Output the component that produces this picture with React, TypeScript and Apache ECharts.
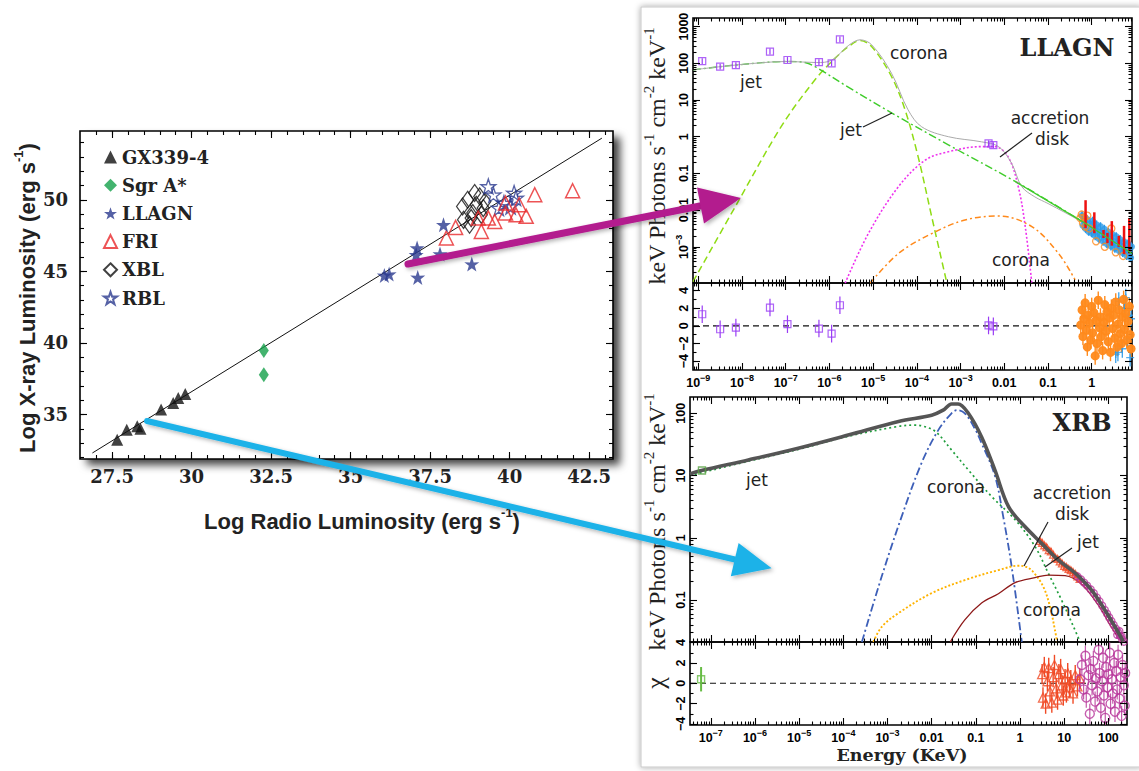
import React, { useEffect, useRef } from "react";
import * as echarts from "echarts";

// ================= LEFT PANEL: log L_R vs log L_X =================
const radioTickLabels = [27.5, 30, 32.5, 35, 37.5, 40, 42.5];
const xrayTickLabels = [35, 40, 45, 50];
const legendNames = ["GX339-4", "Sgr A*", "LLAGN", "FRI", "XBL", "RBL"];
const fitLine = [[26.88, 32.32], [42.9, 54.3]];
const gx339 = [[27.66, 33.25], [27.96, 33.95], [28.29, 34.18], [28.39, 34.02], [29.04, 35.35], [29.42, 35.81], [29.58, 36.16], [29.8, 36.44]];
const sgrA = [[32.27, 39.48], [32.27, 37.79]];
const llagnStars = [[36.06, 44.72], [36.21, 44.81], [37.09, 46.63], [37.06, 46.16], [37.81, 46.21], [37.92, 48.26], [37.11, 44.58], [38.81, 45.51]];
const fri = [[38.01, 47.33], [38.3, 48.07], [39.11, 47.79], [39.01, 48.72], [39.33, 48.72], [39.53, 48.49], [39.87, 49.07], [40.2, 48.95], [40.52, 48.84], [40.3, 49.65], [40.79, 50.35], [41.98, 50.63], [39.87, 49.77]];
const xbl = [[38.52, 49.53], [38.55, 48.6], [38.74, 48.26], [38.68, 50.0], [38.9, 50.47], [38.84, 49.07], [38.95, 49.65], [39.06, 50.23], [39.17, 49.42], [39.22, 49.88], [38.79, 48.72], [39.11, 48.95]];
const rbl = [[39.33, 50.93], [39.49, 50.35], [39.66, 49.42], [39.82, 49.77], [40.03, 49.53], [40.14, 50.47], [40.2, 50.12]];

// ================= LLAGN spectrum (log10 E [keV], log10 flux) =================
const llagnJet = [[-9.12, 1.82], [-8.16, 1.95], [-6.94, 2.05], [-6.56, 2.02], [-6.33, 1.91], [-5.57, 1.35], [-4.58, 0.65], [-3.28, -0.22], [-1.75, -1.22], [-0.23, -2.3], [0.92, -3.18]];
const llagnCoronaHigh = [[-9.12, -3.95], [-8.08, -1.75], [-7.09, 0.3], [-6.33, 1.55], [-5.87, 2.14], [-5.57, 2.45], [-5.3, 2.62], [-5.03, 2.45], [-4.58, 1.64], [-4.27, 0.73], [-3.97, -0.55], [-3.66, -2.18], [-3.32, -3.95]];
const llagnDisk = [[-5.64, -3.99], [-5.11, -2.64], [-4.42, -1.36], [-3.81, -0.64], [-3.28, -0.41], [-2.52, -0.27], [-2.21, -0.27], [-1.91, -0.55], [-1.68, -1.36], [-1.52, -2.45], [-1.37, -3.99]];
const llagnCoronaLow = [[-5.07, -3.99], [-4.42, -3.18], [-3.66, -2.64], [-2.9, -2.27], [-2.13, -2.16], [-1.37, -2.45], [-0.76, -3.18], [-0.38, -3.9]];
const llagnTotal = [[-9.12, 1.82], [-8.16, 1.95], [-6.94, 2.05], [-6.3, 2.02], [-5.95, 2.08], [-5.57, 2.48], [-5.3, 2.64], [-5.03, 2.5], [-4.58, 1.73], [-4.2, 0.73], [-3.89, 0.27], [-3.28, 0.0], [-2.52, -0.14], [-2.13, -0.27], [-1.83, -0.73], [-1.6, -1.36], [-1.3, -1.64], [-1.0, -1.82], [-0.23, -2.32], [0.92, -3.18]];
const llagnRadio = [[-8.91, 2.06], [-8.5, 1.91], [-8.14, 1.95], [-7.36, 2.32], [-6.96, 2.09], [-6.24, 2.03], [-5.95, 2.0], [-5.76, 2.65], [-2.36, -0.18], [-2.25, -0.23]];
const llagnRadioErr = 0.08;
const llagnRadioResid = [[-8.91, 1.32], [-8.5, -0.38], [-8.14, -0.19], [-7.36, 2.08], [-6.96, 0.19], [-6.24, -0.3], [-5.95, -0.87], [-5.76, 2.34], [-2.36, 0.05], [-2.25, -0.05]];
const llagnResidErr = 1.0;
const llagnXrayBlue = [[-0.22, -2.15], [-0.2, -2.42], [-0.17, -2.3], [-0.14, -2.5], [-0.1, -2.26], [-0.07, -2.58], [-0.04, -2.38], [0.0, -2.62], [0.02, -2.3], [0.05, -2.5], [0.08, -2.7], [0.11, -2.4], [0.14, -2.6], [0.17, -2.78], [0.2, -2.45], [0.23, -2.66], [0.26, -2.85], [0.29, -2.52], [0.32, -2.72], [0.35, -2.92], [0.38, -2.6], [0.41, -2.8], [0.44, -2.98], [0.47, -2.66], [0.5, -2.86], [0.53, -3.04], [0.56, -2.72], [0.59, -2.92], [0.62, -3.1], [0.65, -2.8], [0.68, -2.98], [0.71, -3.16], [0.74, -2.86], [0.77, -3.06], [0.8, -3.24], [0.83, -2.92], [0.86, -3.12], [0.89, -3.3], [0.91, -3.0]];
const llagnXrayBlueErr = 0.12;
const llagnXrayOrange = [[-0.26, -2.22], [-0.23, -2.12], [-0.2, -2.35], [-0.17, -2.2], [-0.14, -2.45], [-0.1, -2.15], [-0.06, -2.5], [0.1, -2.85], [0.3, -3.0], [0.55, -3.15], [0.72, -3.25], [0.45, -2.5]];
const llagnXrayRed = [[-0.14, -2.49, -1.73], [0.06, -2.63, -2.06], [0.27, -2.76, -2.54], [0.36, -2.9, -2.62], [0.46, -2.97, -2.3], [0.62, -3.0, -2.7], [0.74, -3.2, -2.43], [0.86, -3.18, -2.22]];
const llagnResidOrange = [[-0.25, 0.1], [-0.22, 1.8], [-0.2, -1.2], [-0.18, 0.8], [-0.15, 2.6], [-0.12, -0.5], [-0.1, -2.4], [-0.08, 1.2], [-0.05, 0.3], [-0.02, -1.6], [0.0, 2.2], [0.02, -0.8], [0.05, 1.5], [0.08, -3.4], [0.1, 0.6], [0.12, -2.0], [0.15, 2.9], [0.18, -0.2], [0.2, 1.0], [0.22, -1.2], [0.25, -2.8], [0.28, 0.4], [0.3, 2.4], [0.33, -0.6], [0.35, 1.6], [0.38, -1.8], [0.4, 0.9], [0.43, -3.0], [0.45, 2.0], [0.48, -0.3], [0.5, 1.2], [0.53, -1.4], [0.55, 2.7], [0.58, -2.4], [0.6, 0.2], [0.63, 1.8], [0.65, -0.9], [0.68, -2.0], [0.7, 1.0], [0.73, 3.0], [0.75, -0.4], [0.78, 1.4], [0.8, -1.6], [0.83, 0.5], [0.86, 2.2], [0.88, -1.0], [0.9, -2.6]];
const llagnResidBlue = [[0.55, -3.2], [0.62, 2.8], [0.7, -2.6], [0.78, 3.2], [0.82, -1.5], [0.85, 1.2], [0.88, -3.6], [0.9, 0.8], [0.6, -3.0], [0.75, 2.0]];

// ================= XRB spectrum =================
const xrbTotal = [[-7.47, 1.025], [-7.21, 1.08], [-6.15, 1.25], [-5.02, 1.44], [-3.89, 1.65], [-2.75, 1.87], [-2.0, 1.97], [-1.74, 2.05], [-1.55, 2.15], [-1.4, 2.15], [-1.17, 2.0], [-0.87, 1.62], [-0.57, 1.09], [-0.26, 0.5], [0.11, 0.18], [0.49, -0.09], [0.87, -0.36], [1.25, -0.57], [1.62, -0.84], [1.92, -1.16], [2.15, -1.43], [2.34, -1.67]];
const xrbJet = [[-7.47, 1.0], [-6.15, 1.23], [-5.02, 1.42], [-3.89, 1.63], [-2.75, 1.79], [-2.38, 1.81], [-2.23, 1.8], [-1.92, 1.71], [-1.55, 1.41], [-1.17, 1.09], [-0.64, 0.66], [-0.11, 0.29], [0.34, -0.14], [0.64, -0.57], [0.94, -1.0], [1.28, -1.54], [1.36, -1.675]];
const xrbCoronaBlue = [[-3.58, -1.675], [-3.13, -0.62], [-2.68, 0.34], [-2.23, 1.2], [-1.85, 1.73], [-1.55, 2.0], [-1.43, 2.05], [-1.25, 2.0], [-1.02, 1.75], [-0.87, 1.52], [-0.57, 1.0], [-0.38, 0.34], [-0.19, -0.46], [0.04, -1.675]];
const xrbDisk = [[-3.32, -1.675], [-3.13, -1.43], [-2.75, -1.21], [-2.0, -0.89], [-1.25, -0.68], [-0.49, -0.52], [-0.04, -0.45], [0.15, -0.47], [0.3, -0.55], [0.53, -0.79], [0.68, -1.11], [0.79, -1.48], [0.84, -1.675]];
const xrbCoronaRed = [[-1.58, -1.675], [-1.25, -1.32], [-0.87, -1.05], [-0.49, -0.9], [-0.11, -0.72], [0.34, -0.64], [0.64, -0.6], [1.02, -0.61], [1.4, -0.75], [1.77, -1.08], [2.08, -1.45], [2.3, -1.675]];
const xrbRadio = [[-7.2, 1.08]];
const xrbRed = [[0.45, -0.05], [0.5, -0.08], [0.55, -0.12], [0.6, -0.15], [0.65, -0.2], [0.7, -0.22], [0.75, -0.27], [0.8, -0.32], [0.85, -0.34], [0.9, -0.38], [0.95, -0.41], [1.0, -0.45], [1.05, -0.47], [1.1, -0.5], [1.15, -0.52], [1.2, -0.55], [1.25, -0.58], [1.3, -0.62], [1.35, -0.66]];
const xrbMagenta = [[1.3, -0.62], [1.38, -0.67], [1.45, -0.72], [1.52, -0.77], [1.6, -0.83], [1.67, -0.89], [1.74, -0.96], [1.8, -1.02], [1.86, -1.09], [1.92, -1.16], [1.97, -1.22], [2.02, -1.28], [2.07, -1.34], [2.12, -1.4], [2.17, -1.46], [2.22, -1.52], [2.27, -1.58], [2.31, -1.63], [2.35, -1.67], [2.25, -1.5], [2.3, -1.58], [2.2, -1.56]];
const xrbResidGreen = [[-7.22, 0.4]];
const xrbResidRed = [[0.5, 0.9], [0.52, -1.4], [0.55, 1.6], [0.58, -2.0], [0.62, 0.2], [0.65, 1.5], [0.68, -0.8], [0.72, -1.9], [0.75, 0.6], [0.78, 1.8], [0.82, -0.5], [0.85, -1.6], [0.88, 0.9], [0.92, 1.4], [0.95, -0.2], [0.98, -1.2], [1.02, 0.4], [1.05, -0.9], [1.08, 1.0], [1.12, -0.4], [1.15, 0.3], [1.2, -1.0], [1.25, 0.8], [1.3, -0.3], [1.35, 0.5]];
const xrbResidMagenta = [[1.36, 0.4], [1.4, 1.8], [1.44, -0.6], [1.48, 2.7], [1.5, -1.4], [1.55, 0.8], [1.58, -3.0], [1.6, 1.4], [1.63, -0.2], [1.66, 2.2], [1.7, -1.8], [1.72, 0.5], [1.75, -0.8], [1.78, 3.3], [1.8, 1.0], [1.83, -2.4], [1.86, 0.2], [1.88, 2.5], [1.9, -1.2], [1.93, -3.4], [1.95, 1.6], [1.98, -0.4], [2.0, 0.9], [2.03, 3.0], [2.05, -2.0], [2.08, 0.4], [2.1, -1.0], [2.13, 2.0], [2.15, -2.8], [2.18, 1.2], [2.2, -0.6], [2.22, 2.8], [2.25, -1.5], [2.28, 0.6], [2.3, -3.2], [2.32, 1.8], [2.35, -0.2], [2.37, -2.2], [2.38, 1.0]];
const xrbResidErr = 1.0;
const residTickLabels = [-4, -2, 0, 2, 4];

// ================= helpers =================
const SANS = "Liberation Sans";
const SERIF = "Liberation Serif";
const DSERIF = "DejaVu Serif";
const LABELSANS = "DejaVu Sans";
const STAR = "path://M50,0 L61.8,35.1 L97.6,34.5 L68.7,56.1 L79.4,90.5 L50,69.8 L20.6,90.5 L31.3,56.1 L2.4,34.5 L38.2,35.1 Z";
const CROSS = "path://M5,0 L5,10 M0,5 L10,5";

const range = (lo: number, hi: number, step: number) => {
  const out: number[] = [];
  for (let v = lo; v <= hi + 1e-9; v += step) out.push(Math.round(v * 1000) / 1000);
  return out;
};
const logMinors = (lo: number, hi: number) => {
  const out: number[] = [];
  for (let n = Math.floor(lo); n <= Math.ceil(hi); n++)
    for (let k = 2; k <= 9; k++) {
      const v = n + Math.log10(k);
      if (v > lo && v < hi) out.push(v);
    }
  return out;
};
const intsIn = (lo: number, hi: number) => range(Math.ceil(lo), Math.floor(hi), 1);
const withErr = (pts: number[][], e: number) => pts.map(([x, y]) => [x, y - e, y + e]);

const tickRich = {
  b: { fontFamily: SANS, fontWeight: "bold", fontSize: 12.5, color: "#000", lineHeight: 16, verticalAlign: "bottom" },
  s: { fontFamily: SANS, fontWeight: "bold", fontSize: 9, color: "#000", lineHeight: 9, verticalAlign: "top" },
};
const logLabel = (v: number) => {
  const n = Math.round(v);
  const plain: Record<string, string> = { "-2": "0.01", "-1": "0.1", "0": "1", "1": "10", "2": "100", "3": "1000" };
  if (plain[String(n)] !== undefined) return `{b|${plain[String(n)]}}`;
  return `{b|10}{s|${n < 0 ? "−" : ""}${Math.abs(n)}}`;
};
const residLabel = (v: number) => `{b|${v < 0 ? "−" + Math.abs(v) : String(v)}}`;

function makeAxes(dim: "x" | "y", gridIndex: number, min: number, max: number, majors: number[], minors: number[], majLen: number, minLen: number, label: any) {
  const pos = dim === "x" ? ["bottom", "top"] : ["left", "right"];
  const one = (position: string, values: number[], len: number, lab: any) => ({
    type: "value",
    gridIndex,
    position,
    min,
    max,
    axisLine: { show: false, onZero: false },
    splitLine: { show: false },
    axisTick: { show: true, inside: true, length: len, customValues: values, lineStyle: { color: "#000", width: 1.1 } },
    axisLabel: lab ? { show: true, customValues: majors, ...lab } : { show: false },
    z: 6,
  });
  return [one(pos[0], majors, majLen, label), one(pos[0], minors, minLen, null), one(pos[1], majors, majLen, null), one(pos[1], minors, minLen, null)];
}

const lineS = (name: string, g: number, data: number[][], color: string, width: number, type: any, z = 3, smooth: any = 0.35) => ({
  type: "line", name, xAxisIndex: g * 4, yAxisIndex: g * 4, data, showSymbol: false, symbol: "none",
  smooth, lineStyle: { color, width, type }, z, silent: true, clip: true,
});
const scatS = (name: string, g: number, data: number[][], symbol: string, size: any, itemStyle: any, z = 5) => ({
  type: "scatter", name, xAxisIndex: g * 4, yAxisIndex: g * 4, data, symbol, symbolSize: size, itemStyle, z, silent: true, clip: true,
});
const errS = (name: string, g: number, data: number[][], color: string, width: number, z = 4) => ({
  type: "custom", name, xAxisIndex: g * 4, yAxisIndex: g * 4, data, encode: { x: 0, y: [1, 2] }, z, silent: true, clip: true,
  renderItem: (_p: any, api: any) => {
    const x = api.value(0);
    const a = api.coord([x, api.value(1)]);
    const b = api.coord([x, api.value(2)]);
    return { type: "line", shape: { x1: a[0], y1: a[1], x2: b[0], y2: b[1] }, style: { stroke: color, lineWidth: width } };
  },
});
const hollow = (c: string, w = 1.3) => ({ color: "rgba(0,0,0,0)", borderColor: c, borderWidth: w });

function buildOption() {
  const R = {
    g0: { x: [26.49, 43.25], y: [31.9, 54.8] },
    g1: { x: [-9.121, 0.922], y: [-3.986, 3.234] },
    g2: { x: [-9.121, 0.922], y: [-5.0, 4.86] },
    g3: { x: [-7.471, 2.422], y: [-1.675, 2.262] },
    g4: { x: [-7.471, 2.422], y: [-4.1, 4.06] },
  };
  const grids = [
    { left: 80, top: 131, width: 533, height: 328 },
    { left: 693, top: 18, width: 439, height: 265 },
    { left: 693, top: 283, width: 439, height: 87 },
    { left: 690, top: 397, width: 437, height: 245 },
    { left: 690, top: 642, width: 437, height: 83 },
  ].map((g) => ({ ...g, show: true, borderColor: "#000", borderWidth: 1.6, backgroundColor: "rgba(0,0,0,0)", containLabel: false }));

  const leftXLabel = { fontFamily: DSERIF, fontWeight: "bold", fontSize: 18, color: "#222", margin: 8, formatter: (v: number) => String(v) };
  const leftYLabel = { fontFamily: DSERIF, fontWeight: "bold", fontSize: 18, color: "#222", margin: 12, formatter: (v: number) => String(v) };
  const rXLabel = { formatter: logLabel, rich: tickRich, margin: 3 };
  const rYLabel = { formatter: logLabel, rich: tickRich, rotate: 90, margin: 3 };
  const resYLabel = { formatter: residLabel, rich: tickRich, rotate: 90, margin: 3 };

  const xAxis = [
    ...makeAxes("x", 0, R.g0.x[0], R.g0.x[1], radioTickLabels, range(27, 43, 0.5), 7, 4, leftXLabel),
    ...makeAxes("x", 1, R.g1.x[0], R.g1.x[1], intsIn(R.g1.x[0], R.g1.x[1]), logMinors(R.g1.x[0], R.g1.x[1]), 7, 3.5, null),
    ...makeAxes("x", 2, R.g2.x[0], R.g2.x[1], intsIn(R.g2.x[0], R.g2.x[1]), logMinors(R.g2.x[0], R.g2.x[1]), 7, 3.5, rXLabel),
    ...makeAxes("x", 3, R.g3.x[0], R.g3.x[1], intsIn(R.g3.x[0], R.g3.x[1]), logMinors(R.g3.x[0], R.g3.x[1]), 7, 3.5, null),
    ...makeAxes("x", 4, R.g4.x[0], R.g4.x[1], intsIn(R.g4.x[0], R.g4.x[1]), logMinors(R.g4.x[0], R.g4.x[1]), 7, 3.5, rXLabel),
  ];
  const yAxis = [
    ...makeAxes("y", 0, R.g0.y[0], R.g0.y[1], xrayTickLabels, range(32, 54, 1), 7, 4, leftYLabel),
    ...makeAxes("y", 1, R.g1.y[0], R.g1.y[1], intsIn(R.g1.y[0], R.g1.y[1]), logMinors(R.g1.y[0], R.g1.y[1]), 7, 3.5, rYLabel),
    ...makeAxes("y", 2, R.g2.y[0], R.g2.y[1], residTickLabels, range(-4, 4, 1), 7, 3.5, resYLabel),
    ...makeAxes("y", 3, R.g3.y[0], R.g3.y[1], intsIn(R.g3.y[0], R.g3.y[1]), logMinors(R.g3.y[0], R.g3.y[1]), 7, 3.5, rYLabel),
    ...makeAxes("y", 4, R.g4.y[0], R.g4.y[1], residTickLabels, range(-4, 4, 1), 7, 3.5, resYLabel),
  ];

  const series: any[] = [
    // left
    lineS("fit", 0, fitLine, "#111", 1, "solid", 2, false),
    scatS("XBL", 0, xbl, "diamond", [12, 17], hollow("#111", 1.3), 5),
    scatS("RBL", 0, rbl, STAR, 15, hollow("#2b3a8f", 1.3), 6),
    scatS("FRI", 0, fri, "triangle", 14, hollow("#e8282b", 1.5), 7),
    scatS("LLAGN", 0, llagnStars, STAR, 15, { color: "#2b3a8f" }, 8),
    scatS("Sgr A*", 0, sgrA, "diamond", [10, 15], { color: "#14a04a" }, 8),
    scatS("GX339-4", 0, gx339, "triangle", 12, { color: "#111" }, 8),

    // LLAGN top
    lineS("llagnCoronaHigh", 1, llagnCoronaHigh, "#8fdc14", 1.5, [7, 4]),
    lineS("llagnJet", 1, llagnJet, "#3fcc2a", 1.4, [8, 3, 2, 3]),
    lineS("llagnDisk", 1, llagnDisk, "#ee33ee", 1.6, [2, 2]),
    lineS("llagnCoronaLow", 1, llagnCoronaLow, "#ff8a1c", 1.5, [6, 3, 2, 3]),
    lineS("llagnTotal", 1, llagnTotal, "#aaaaaa", 1, "solid", 3),
    errS("llagnRadioErr", 1, withErr(llagnRadio, llagnRadioErr), "#9a3cf5", 1.2),
    scatS("llagnRadioPts", 1, llagnRadio, "rect", 7, hollow("#9a3cf5", 1.2)),
    errS("llagnBlueErr", 1, withErr(llagnXrayBlue, llagnXrayBlueErr), "#2a9ae8", 1.5),
    scatS("llagnBlue", 1, llagnXrayBlue, "circle", 7, { color: "#2a9ae8" }),
    scatS("llagnOrange", 1, llagnXrayOrange, "circle", 7, hollow("#ff8a1c", 1.3)),
    errS("llagnRed", 1, llagnXrayRed, "#ee1111", 2.5, 6),
    lineS("llagnJetTop", 1, llagnJet.slice(8), "#3fcc2a", 1.2, "solid", 7, false),

    // LLAGN residuals
    lineS("zero1", 2, [[R.g2.x[0], 0], [R.g2.x[1], 0]], "#111", 1.1, [6, 4], 2, false),
    errS("llagnResErr", 2, withErr(llagnRadioResid, llagnResidErr), "#9a3cf5", 1.2),
    scatS("llagnResPts", 2, llagnRadioResid, "rect", 7, hollow("#9a3cf5", 1.2)),
    errS("llagnResBlueErr", 2, withErr(llagnResidBlue, llagnResidErr), "#2a9ae8", 1.2),
    scatS("llagnResBlue", 2, llagnResidBlue, CROSS, 8, hollow("#2a9ae8", 1.4)),
    errS("llagnResOrangeErr", 2, withErr(llagnResidOrange, llagnResidErr), "#ff8a1c", 1.4, 5),
    scatS("llagnResOrange", 2, llagnResidOrange, "circle", 8, { color: "#ff8a1c", borderColor: "#ff8a1c", borderWidth: 1.2, opacity: 0.95 }, 6),

    // XRB top
    lineS("xrbJet", 3, xrbJet, "#1f9e3c", 1.7, [2, 3]),
    lineS("xrbCoronaBlue", 3, xrbCoronaBlue, "#3d5fb8", 1.8, [8, 3, 2, 3]),
    lineS("xrbDisk", 3, xrbDisk, "#ffb300", 1.9, [2, 2]),
    lineS("xrbCoronaRed", 3, xrbCoronaRed, "#8e1a1a", 1.3, "solid"),
    errS("xrbRedErr", 3, withErr(xrbRed, 0.05), "#f04a25", 2, 4),
    scatS("xrbRedPts", 3, xrbRed, "triangle", 7, hollow("#f04a25", 1.3), 4),
    errS("xrbMagErr", 3, withErr(xrbMagenta, 0.06), "#b8369b", 2, 4),
    scatS("xrbMagPts", 3, xrbMagenta, "circle", 7, hollow("#b8369b", 1.3), 4),
    lineS("xrbTotal", 3, xrbTotal, "#555555", 3.6, "solid", 6),
    scatS("xrbRadio", 3, xrbRadio, "rect", 7, hollow("#55a040", 1.4), 7),

    // XRB residuals
    lineS("zero2", 4, [[R.g4.x[0], 0], [R.g4.x[1], 0]], "#111", 1.1, [6, 4], 2, false),
    errS("xrbResGreenErr", 4, withErr(xrbResidGreen, 1.2), "#66bb44", 2),
    scatS("xrbResGreen", 4, xrbResidGreen, "rect", 7, hollow("#66bb44", 1.4)),
    errS("xrbResRedErr", 4, withErr(xrbResidRed, xrbResidErr), "#f04a25", 1.4),
    scatS("xrbResRed", 4, xrbResidRed, "triangle", 9, hollow("#f04a25", 1.3)),
    errS("xrbResMagErr", 4, withErr(xrbResidMagenta, xrbResidErr), "#c35aaa", 1.2),
    scatS("xrbResMag", 4, xrbResidMagenta, "circle", 9, hollow("#b8369b", 1.4)),
  ];

  const txt = (text: string, x: number, y: number, extra: any = {}, rotation = 0, z = 60) => ({
    type: "text", x, y, rotation, z, silent: true,
    style: { text, fill: "#222", fontFamily: LABELSANS, fontSize: 17, align: "center", verticalAlign: "middle", ...extra },
  });
  const seg = (x1: number, y1: number, x2: number, y2: number) => ({
    type: "line", z: 60, silent: true, shape: { x1, y1, x2, y2 }, style: { stroke: "#222", lineWidth: 1.2 },
  });
  const keVRich = {
    a: { fontFamily: SERIF, fontSize: 24, fill: "#222", color: "#222", lineHeight: 28, verticalAlign: "bottom" },
    s: { fontFamily: SERIF, fontSize: 15, fill: "#222", color: "#222", lineHeight: 15, verticalAlign: "top" },
  };
  const keVText = "{a|keV Photons s}{s|-1}{a| cm}{s|-2}{a| keV}{s|-1}";
  const boldSansRich = {
    a: { fontFamily: SANS, fontWeight: "bold", fontSize: 22, fill: "#222", color: "#222", lineHeight: 26, verticalAlign: "bottom" },
    s: { fontFamily: SANS, fontWeight: "bold", fontSize: 13, fill: "#222", color: "#222", lineHeight: 13, verticalAlign: "top" },
  };

  const magenta = "#b31c8e";
  const cyan = "#1fb2e8";

  const graphic = [
    // frames
    { type: "rect", z: -50, silent: true, shape: { x: 641, y: 7, width: 500, height: 760 }, style: { fill: "#fff", stroke: "#c8c8c8", lineWidth: 1, shadowBlur: 6, shadowColor: "rgba(0,0,0,0.35)" } },
    { type: "rect", z: -40, silent: true, shape: { x: 80, y: 131, width: 533, height: 328 }, style: { fill: "#fff", shadowBlur: 9, shadowOffsetX: 7, shadowOffsetY: 6, shadowColor: "rgba(0,0,0,0.75)" } },
    // left titles
    txt("{a|Log X-ray Luminosity (erg s}{s|-1}{a|)}", 25, 298, { rich: boldSansRich }, Math.PI / 2),
    txt("{a|Log Radio Luminosity (erg s}{s|-1}{a|)}", 362, 519, { rich: boldSansRich }),
    // right titles
    txt(keVText, 655, 156, { rich: keVRich }, Math.PI / 2),
    txt(keVText, 655, 522, { rich: keVRich }, Math.PI / 2),
    txt("χ", 655, 683, { fontFamily: SERIF, fontSize: 26 }, Math.PI / 2),
    txt("Energy (KeV)", 902, 755, { fontFamily: DSERIF, fontWeight: "bold", fontSize: 17.5 }),
    txt("LLAGN", 1067, 47, { fontFamily: DSERIF, fontWeight: "bold", fontSize: 24 }),
    txt("XRB", 1082, 422, { fontFamily: DSERIF, fontWeight: "bold", fontSize: 24 }),
    // LLAGN component labels
    txt("jet", 751, 82), txt("corona", 919, 53), txt("jet", 851, 130),
    txt("accretion", 1050, 118), txt("disk", 1052, 139), txt("corona", 1021, 260),
    seg(863, 127, 892, 113), seg(1000, 157, 1032, 133),
    // XRB component labels
    txt("jet", 757, 480), txt("corona", 956, 487), txt("accretion", 1072, 493), txt("disk", 1072, 514),
    txt("jet", 1088, 542), txt("corona", 1052, 610),
    seg(1024, 566, 1048, 522), seg(1045, 567, 1072, 548),
    // arrows
    { type: "line", z: 100, silent: true, shape: { x1: 408, y1: 264, x2: 705, y2: 205 }, style: { stroke: magenta, lineWidth: 7, lineCap: "round", shadowBlur: 4, shadowOffsetX: 2, shadowOffsetY: 2, shadowColor: "rgba(0,0,0,0.3)" } },
    { type: "polygon", z: 101, silent: true, shape: { points: [[741, 198], [697, 187.5], [704, 223.5]] }, style: { fill: magenta, shadowBlur: 4, shadowOffsetX: 2, shadowOffsetY: 2, shadowColor: "rgba(0,0,0,0.3)" } },
    { type: "line", z: 100, silent: true, shape: { x1: 147, y1: 421, x2: 737, y2: 560 }, style: { stroke: cyan, lineWidth: 6, lineCap: "round", shadowBlur: 4, shadowOffsetX: 2, shadowOffsetY: 2, shadowColor: "rgba(0,0,0,0.3)" } },
    { type: "polygon", z: 101, silent: true, shape: { points: [[771.7, 568.3], [730.8, 576.2], [738.6, 543.1]] }, style: { fill: cyan, shadowBlur: 4, shadowOffsetX: 2, shadowOffsetY: 2, shadowColor: "rgba(0,0,0,0.3)" } },
  ];

  return {
    animation: false,
    backgroundColor: "#fff",
    grid: grids,
    xAxis,
    yAxis,
    legend: {
      data: legendNames,
      orient: "vertical",
      left: 98,
      top: 142,
      itemWidth: 13,
      itemHeight: 13,
      itemGap: 8.2,
      selectedMode: false,
      textStyle: { fontFamily: DSERIF, fontWeight: "bold", fontSize: 18, color: "#222", lineHeight: 20 },
    },
    series,
    graphic,
  };
}

export default function App() {
  const ref = useRef<HTMLDivElement>(null);
  useEffect(() => {
    document.body.style.margin = "0";
    const chart = echarts.init(ref.current!, undefined, { renderer: "svg" });
    chart.setOption(buildOption() as any);
    return () => chart.dispose();
  }, []);
  return <div ref={ref} style={{ position: "absolute", left: 0, top: 0, width: 1139, height: 771, background: "#fff" }} />;
}
